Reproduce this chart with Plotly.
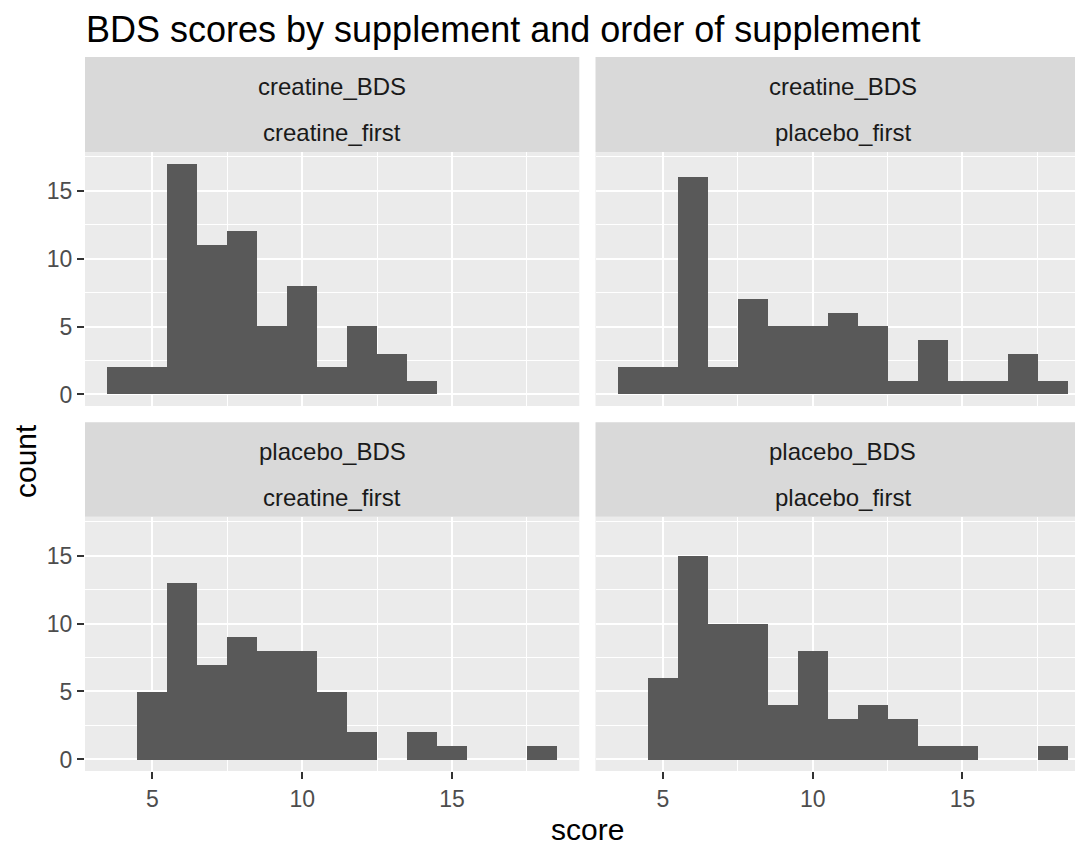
import plotly.graph_objects as go

# ---- data ----
bins = [4, 5, 6, 7, 8, 9, 10, 11, 12, 13, 14, 15, 16, 17, 18]
creatine_bds_creatine_first = [2, 2, 17, 11, 12, 5, 8, 2, 5, 3, 1, 0, 0, 0, 0]
creatine_bds_placebo_first = [2, 2, 16, 2, 7, 5, 5, 6, 5, 1, 4, 1, 1, 3, 1]
placebo_bds_creatine_first = [0, 5, 13, 7, 9, 8, 8, 5, 2, 0, 2, 1, 0, 0, 1]
placebo_bds_placebo_first = [0, 6, 15, 10, 10, 4, 8, 3, 4, 3, 1, 1, 0, 0, 1]

row_labels = ["creatine_BDS", "placebo_BDS"]
col_labels = ["creatine_first", "placebo_first"]
x_ticks = [5, 10, 15]
y_ticks = [0, 5, 10, 15]

title_text = "BDS scores by supplement and order of supplement"
x_title = "score"
y_title = "count"

# ---- layout geometry (page pixels; the page body has an 8px margin) ----
OFF = 8
PAGE_W, PAGE_H = 1083, 849
W, H = PAGE_W - OFF, PAGE_H - OFF
PLOT_L, PLOT_T, PLOT_B = 85, 57.3, 770.7  # page px
ML = PLOT_L - OFF
MT = PLOT_T - OFF
MB = H - (PLOT_B - OFF)
MR = 0
PW = W - ML - MR
PH = H - MT - MB


def px_x(p):
    return (p - PLOT_L) / PW


def px_y(p):
    return (PLOT_B - p) / PH


XL = (85, 579.3)
XR = (595.5, 1083)
PANEL_TOP = (152.3, 406.0)
STRIP_TOP = (57.3, 152.3)
PANEL_BOT = (516.7, 770.7)
STRIP_BOT = (422.3, 516.7)

FONT = "Liberation Sans, Arial, sans-serif"
BAR = "#595959"
PANEL_BG = "#EBEBEB"
STRIP_BG = "#D9D9D9"

fig = go.Figure()

panels = [
    (creatine_bds_creatine_first, XL, PANEL_TOP, STRIP_TOP, 0, 0),
    (creatine_bds_placebo_first, XR, PANEL_TOP, STRIP_TOP, 0, 1),
    (placebo_bds_creatine_first, XL, PANEL_BOT, STRIP_BOT, 1, 0),
    (placebo_bds_placebo_first, XR, PANEL_BOT, STRIP_BOT, 1, 1),
]

px_per_unit = (XL[1] - XL[0]) / 16.5
x0 = 2.75

layout_axes = {}
shapes = []
annotations = []
for i, (vals, xd, yd, sd, r, c) in enumerate(panels, start=1):
    xa = "x" if i == 1 else f"x{i}"
    ya = "y" if i == 1 else f"y{i}"
    fig.add_trace(go.Bar(
        x=bins, y=vals, width=1.0, xaxis=xa, yaxis=ya,
        marker=dict(color=BAR, line=dict(width=0)),
        hoverinfo="x+y", showlegend=False,
    ))
    xmax = x0 + (xd[1] - xd[0]) / px_per_unit
    bottom = r == 1
    left = c == 0
    xkey = "xaxis" if i == 1 else f"xaxis{i}"
    ykey = "yaxis" if i == 1 else f"yaxis{i}"
    layout_axes[xkey] = dict(
        domain=[px_x(xd[0]), min(1.0, px_x(xd[1]))],
        range=[x0, xmax], anchor=ya,
        tickmode="array", tickvals=x_ticks,
        showticklabels=bottom, ticks="outside" if bottom else "",
        ticklen=7, tickwidth=2, tickcolor="#333333",
        tickfont=dict(family=FONT, size=23, color="#4D4D4D"),
        showgrid=True, gridcolor="white", gridwidth=2.2,
        minor=dict(tickmode="array", tickvals=[7.5, 12.5, 17.5],
                   showgrid=True, gridcolor="white", gridwidth=1.1, ticks=""),
        zeroline=False, showline=False, fixedrange=True,
    )
    layout_axes[ykey] = dict(
        domain=[px_y(yd[1]), px_y(yd[0])],
        range=[-0.85, 17.85], anchor=xa,
        tickmode="array", tickvals=y_ticks,
        showticklabels=left, ticks="outside" if left else "",
        ticklen=7, tickwidth=2, tickcolor="#333333",
        tickfont=dict(family=FONT, size=23, color="#4D4D4D"),
        showgrid=True, gridcolor="white", gridwidth=2.2,
        minor=dict(tickmode="array", tickvals=[2.5, 7.5, 12.5, 17.5],
                   showgrid=True, gridcolor="white", gridwidth=1.1, ticks=""),
        zeroline=False, showline=False, fixedrange=True,
    )
    # strip
    shapes.append(dict(
        type="rect", xref="paper", yref="paper",
        x0=px_x(xd[0]), x1=px_x(xd[1]), y0=px_y(sd[1]), y1=px_y(sd[0]),
        fillcolor=STRIP_BG, line=dict(width=0), layer="below",
    ))
    cx = px_x((xd[0] + xd[0] + 16.5 * px_per_unit) / 2)
    for txt, yy in ((row_labels[r], sd[0] + 29.5), (col_labels[c], sd[0] + 75.5)):
        annotations.append(dict(
            text=txt, x=cx, y=px_y(yy), xref="paper", yref="paper",
            xanchor="center", yanchor="middle", showarrow=False,
            font=dict(family=FONT, size=24, color="#1A1A1A"),
        ))

annotations.append(dict(
    text=title_text, x=px_x(85), y=px_y(30), xref="paper", yref="paper",
    xanchor="left", yanchor="middle", showarrow=False, borderpad=0,
    font=dict(family=FONT, size=36, color="black"),
))
annotations.append(dict(
    text=x_title, x=px_x(587.5), y=px_y(829), xref="paper", yref="paper",
    xanchor="center", yanchor="middle", showarrow=False,
    font=dict(family=FONT, size=30, color="black"),
))
annotations.append(dict(
    text=y_title, x=px_x(25), y=px_y(461), xref="paper", yref="paper",
    xanchor="center", yanchor="middle", showarrow=False, textangle=-90,
    font=dict(family=FONT, size=30, color="black"),
))

fig.update_layout(
    width=W, height=H,
    margin=dict(l=ML, r=MR, t=MT, b=MB, pad=0),
    paper_bgcolor="white", plot_bgcolor=PANEL_BG,
    barmode="overlay", bargap=0,
    shapes=shapes, annotations=annotations,
    showlegend=False,
    **layout_axes,
)

fig.write_html("out.html", config={"displayModeBar": False})
